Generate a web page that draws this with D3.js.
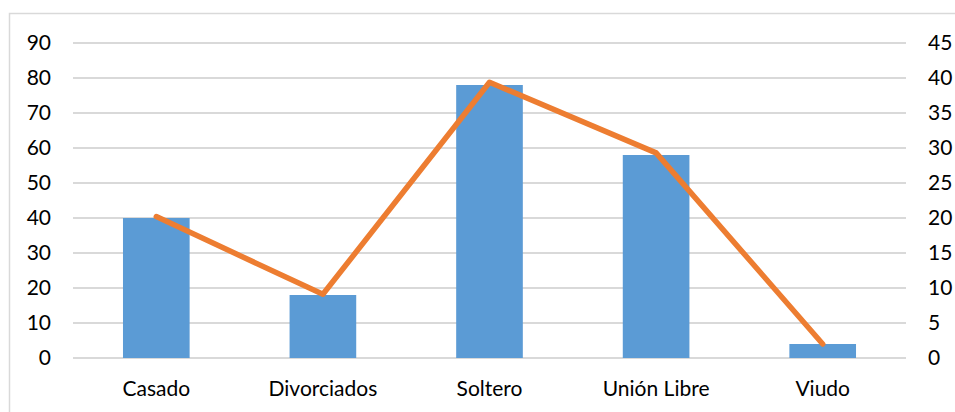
<!DOCTYPE html>
<html>
<head>
<meta charset="utf-8">
<script src="https://cdn.jsdelivr.net/npm/d3@7"></script>
<style>
  html, body { margin: 0; padding: 0; background: #fff; }
  svg text { font-family: Lato, "Open Sans", sans-serif; fill: #000; }
</style>
</head>
<body>
<svg id="chart" width="955" height="412"></svg>
<script>
  var categories = ['Casado', 'Divorciados', 'Soltero', 'Unión Libre', 'Viudo'];
  var barValues = [40, 18, 78, 58, 4];
  var lineValues = [20.2, 9.1, 39.4, 29.3, 2.0];
  var leftTicks = [0, 10, 20, 30, 40, 50, 60, 70, 80, 90];
  var rightTicks = [0, 5, 10, 15, 20, 25, 30, 35, 40, 45];

  var svg = d3.select('#chart'),
      margin = {top: 43, right: 49, bottom: 54, left: 73},
      width = +svg.attr('width') - margin.left - margin.right,
      height = +svg.attr('height') - margin.top - margin.bottom;

  // chart frame
  svg.append('rect')
      .attr('x', 9.5).attr('y', 13.5)
      .attr('width', 960).attr('height', 420)
      .attr('fill', 'none')
      .attr('stroke', '#d9d9d9')
      .attr('stroke-width', 1.5);

  var g = svg.append('g')
      .attr('transform', 'translate(' + margin.left + ',' + margin.top + ')');

  var x = d3.scaleBand()
      .domain(categories)
      .range([0, width])
      .paddingInner(0.6)
      .paddingOuter(0.3);

  var xCenter = d3.scaleBand().domain(categories).range([0, width]);

  var yLeft = d3.scaleLinear().domain([0, 90]).range([height, 0]);
  var yRight = d3.scaleLinear().domain([0, 45]).range([height, 0]);

  // gridlines
  g.append('g')
      .attr('class', 'grid')
      .selectAll('line')
      .data(leftTicks)
      .enter()
      .append('line')
      .attr('x1', 0)
      .attr('x2', width)
      .attr('y1', function (d) { return yLeft(d); })
      .attr('y2', function (d) { return yLeft(d); })
      .attr('stroke', '#d9d9d9')
      .attr('stroke-width', 2);

  // bars
  g.append('g')
      .selectAll('rect')
      .data(categories)
      .enter()
      .append('rect')
      .attr('x', function (d) { return x(d); })
      .attr('width', x.bandwidth())
      .attr('y', function (d, i) { return yLeft(barValues[i]); })
      .attr('height', function (d, i) { return height - yLeft(barValues[i]); })
      .attr('fill', '#5b9bd5');

  // line on secondary axis
  var line = d3.line()
      .x(function (d, i) { return xCenter(categories[i]) + xCenter.bandwidth() / 2; })
      .y(function (d) { return yRight(d); });

  g.append('path')
      .datum(lineValues)
      .attr('d', line)
      .attr('fill', 'none')
      .attr('stroke', '#ed7d31')
      .attr('stroke-width', 5.5)
      .attr('stroke-linejoin', 'round')
      .attr('stroke-linecap', 'round');

  // axes
  var leftAxis = d3.axisLeft(yLeft).tickValues(leftTicks).tickSize(0).tickPadding(22);
  var rightAxis = d3.axisRight(yRight).tickValues(rightTicks).tickSize(0).tickPadding(22);
  var bottomAxis = d3.axisBottom(xCenter).tickSize(0).tickPadding(23);

  var ya = g.append('g').attr('class', 'y axis').call(leftAxis);
  var yb = g.append('g').attr('class', 'y2 axis')
      .attr('transform', 'translate(' + width + ',0)').call(rightAxis);
  var xa = g.append('g').attr('class', 'x axis')
      .attr('transform', 'translate(0,' + height + ')').call(bottomAxis);

  [ya, yb, xa].forEach(function (a) {
    a.select('.domain').remove();
    a.selectAll('text')
        .style('font-size', '21px')
        .style('font-family', 'Lato, "Open Sans", sans-serif')
        .attr('fill', '#000');
  });
</script>
</body>
</html>
